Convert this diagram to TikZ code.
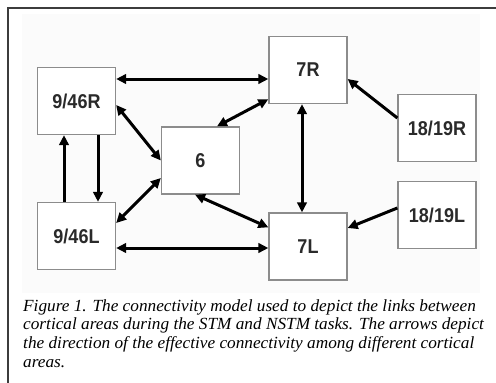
\documentclass[tikz,border=0pt]{standalone}
\usepackage{fontspec}
\setmainfont{Liberation Serif}
\newfontfamily\areafont[FakeStretch=0.9]{Liberation Sans}
\usetikzlibrary{arrows.meta}
\definecolor{framegray}{HTML}{3C3C3C}
\definecolor{boxgray}{HTML}{8C8C8C}
\definecolor{panelgray}{HTML}{FBFBFB}
\definecolor{labelgray}{HTML}{2A2A2A}
\tikzset{
  area/.style={draw=boxgray, line width=1.3pt, fill=white, minimum width=78pt,
    minimum height=67pt, inner sep=0pt, text=labelgray,
    font=\areafont\fontsize{20}{24}\selectfont\bfseries},
  tip/.tip={Triangle[length=10pt,width=9.5pt]},
  link/.style={line width=3pt, black, tip-tip},
  onelink/.style={line width=3pt, black, -tip},
  captionline/.style={anchor=base west, inner sep=0pt, xscale=1.015, transform shape,
    font=\fontsize{17}{18.7}\selectfont\itshape}
}
\begin{document}
\begin{tikzpicture}[x=1pt, y=-1pt]
  \useasboundingbox (0,0) rectangle (496,383);
  \fill[white] (0,0) rectangle (496,383);
  % faint backdrop behind the network
  \fill[panelgray] (22,14) rectangle (480,293);
  % open frame along the top and left edges
  \draw[framegray, line width=2pt] (7.5,383) -- (7.5,7.5) -- (496,7.5);

  % cortical areas
  \node[area] (R946)  at (76.5,101)  {9/46R};
  \node[area] (L946)  at (76.5,236)  {9/46L};
  \node[area] (six)   at (200.5,160.5) {6};
  \node[area] (R7)    at (308,70)    {7R};
  \node[area] (L7)    at (308,246.5) {7L};
  \node[area] (R1819) at (437,128)   {18/19R};
  \node[area] (L1819) at (437,215)   {18/19L};

  % helper points for straight links
  \coordinate (h1) at ([yshift=22pt]R946.east);
  \coordinate (h2) at ([yshift=-12pt]L946.east);
  \coordinate (v1) at ([xshift=-6pt]R7.south);
  \coordinate (d1) at ([xshift=21.5pt]R946.south);
  \coordinate (u1) at ([xshift=-12.5pt]L946.north);

  % reciprocal links
  \draw[link] (h1) -- (h1 -| R7.west);
  \draw[link] (h2) -- (h2 -| L7.west);
  \draw[link] ([yshift=-4pt]R946.east) -- (six.west);
  \draw[link] ([yshift=-17.5pt]six.west) -- ([yshift=13pt]L946.east);
  \draw[link] ([xshift=16.5pt]six.north) -- ([yshift=5pt]R7.south west);
  \draw[link] ([xshift=-5.5pt]six.south) -- ([yshift=-15pt]L7.north west);
  \draw[link] (v1) -- (v1 |- L7.north);

  % one-way links
  \draw[onelink] ([yshift=10pt]R1819.west) -- ([yshift=-9pt]R7.east);
  \draw[onelink] ([yshift=7pt]L1819.west) -- ([yshift=18.5pt]L7.east);
  \draw[onelink] (d1) -- (d1 |- L946.north);
  \draw[onelink] (u1) -- (u1 |- R946.south);

  % caption
  \node[captionline] (c1) at (23,311) {Figure 1. The connectivity model used to depict the links between};
  \node[captionline] (c2) at (23,329.7) {cortical areas during the STM and NSTM tasks. The arrows depict};
  \node[captionline] (c3) at (23,348.4) {the direction of the effective connectivity among different cortical};
  \node[captionline] (c4) at (23,367.1) {areas.};
\end{tikzpicture}
\end{document}
